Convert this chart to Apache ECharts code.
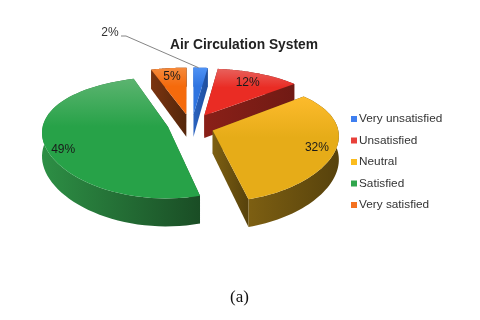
<!DOCTYPE html>
<html>
<head>
<meta charset="utf-8">
<script src="https://cdn.jsdelivr.net/npm/echarts@6/dist/echarts.min.js"></script>
<style>
  html, body { margin: 0; padding: 0; background: #fff; }
  #chart { width: 480px; height: 320px; filter: blur(0.35px); }
</style>
</head>
<body>
<div id="chart"></div>
<script>
const categories = ['Very unsatisfied', 'Unsatisfied', 'Neutral', 'Satisfied', 'Very satisfied']
const percents = [2, 12, 32, 49, 5]

// slice look, same order as categories
const legendColors = ['#3f7ff0', '#e8403a', '#fbbc1e', '#2fa64c', '#f4711f']
const topColors = [['#4f92f5', '#2f74e0'], ['#e8615c', '#ea2c24'], ['#fdbb2c', '#e6ac18'], ['#5cb470', '#27a248'], ['#f58a3c', '#f56a0c']]
const wallColors = [['#2a62c0', '#1f4f9e'], ['#8a2018', '#701a14'], ['#7d5f12', '#57420c'], ['#2d8f45', '#1a4d25'], ['#7a3410', '#54260a']]
const labelRadius = [0, 0.78, 0.85, 0.85, 0.8]
// small nudges in px so each slice sits where it does in the picture
const nudgeX = [2, 3, 0, 1, 0]
const nudgeY = [0, 0, 2, -1, 0]
const labelNudgeY = [0, 1, 1, 8, 0]

// fake 3D projection
const centerX = 190
const centerY = 125
const radiusX = 125
const radiusY = 58
const depth = 23
const explode = 0.19

function project(u, v) {
  return [
    centerX + radiusX * u / (1 - 0.08 * v),
    centerY + radiusY * v / (1 - 0.17 * v)
  ]
}
function dropped(u, v) {
  const p = project(u, v)
  return [p[0], p[1] + depth / (1 - 0.17 * v)]
}

const total = percents.reduce((a, b) => a + b, 0)
const startAngles = []
percents.reduce((acc, v, i) => {
  startAngles[i] = acc
  return acc + v / total * Math.PI * 2
}, 0)

function gradient(stops, vertical) {
  return {
    type: 'linear', x: 0, y: 0, x2: vertical ? 0 : 1, y2: vertical ? 1 : 0,
    colorStops: vertical
      ? [{ offset: 0, color: stops[0] }, { offset: 0.4, color: stops[1] }, { offset: 1, color: stops[1] }]
      : [{ offset: 0, color: stops[0] }, { offset: 1, color: stops[1] }]
  }
}

function sliceShapes(i) {
  const from = startAngles[i]
  const to = from + percents[i] / total * Math.PI * 2
  const mid = (from + to) / 2
  const ax = Math.sin(mid) * explode
  const ay = -Math.cos(mid) * explode
  const rim = []
  const steps = 60
  for (let k = 0; k <= steps; k++) {
    const t = from + (to - from) * k / steps
    rim.push([ax + Math.sin(t), ay - Math.cos(t)])
  }
  const children = []
  const wallStyle = { fill: gradient(wallColors[i], false) }
  // radial walls
  ;[rim[0], rim[steps]].forEach(e => {
    children.push({
      type: 'polygon', silent: true,
      shape: { points: [project(ax, ay), project(e[0], e[1]), dropped(e[0], e[1]), dropped(ax, ay)] },
      style: wallStyle
    })
  })
  // outer wall
  const outer = rim.map(p => project(p[0], p[1])).concat(rim.slice().reverse().map(p => dropped(p[0], p[1])))
  children.push({ type: 'polygon', silent: true, shape: { points: outer }, style: wallStyle })
  // top face
  const top = [project(ax, ay)].concat(rim.map(p => project(p[0], p[1])))
  children.push({ type: 'polygon', silent: true, shape: { points: top }, style: { fill: gradient(topColors[i], true) } })
  // label
  const text = percents[i] + '%'
  const font = '12px "Liberation Sans", Arial, sans-serif'
  if (labelRadius[i] > 0) {
    const lp = project(ax + Math.sin(mid) * labelRadius[i], ay - Math.cos(mid) * labelRadius[i])
    children.push({
      type: 'text', silent: true, z2: 10,
      style: { x: lp[0], y: lp[1] + labelNudgeY[i], text: text, font: font, fill: '#1a1a1a', align: 'center', verticalAlign: 'middle' }
    })
  } else {
    const end = project(rim[steps / 2][0], rim[steps / 2][1])
    children.push({
      type: 'polyline', silent: true, x: -nudgeX[i], y: -nudgeY[i],
      shape: { points: [[121, 36], [126, 36], end] },
      style: { stroke: '#666', lineWidth: 0.8, fill: null }
    })
    children.push({
      type: 'text', silent: true, z2: 10, x: -nudgeX[i], y: -nudgeY[i],
      style: { x: 110, y: 33, text: text, font: font, fill: '#333', align: 'center', verticalAlign: 'middle' }
    })
  }
  return { type: 'group', x: nudgeX[i], y: nudgeY[i], children: children }
}

// painted back to front
const drawOrder = [0, 4, 1, 3, 2]

const chart = echarts.init(document.getElementById('chart'), null, { renderer: 'canvas' })
chart.setOption({
  animation: false,
  backgroundColor: '#fff',
  title: [
    {
      text: 'Air Circulation System',
      left: 165, top: 33,
      textStyle: { fontFamily: '"Liberation Sans", Arial, sans-serif', fontSize: 13.8, fontWeight: 'bold', color: '#222' }
    },
    {
      text: '(a)',
      left: 225, top: 284,
      textStyle: { fontFamily: '"Liberation Serif", "Times New Roman", serif', fontSize: 17, fontWeight: 'normal', color: '#111' }
    }
  ],
  legend: {
    orient: 'vertical',
    left: 346, top: 108,
    itemWidth: 6, itemHeight: 6,
    itemGap: 9.5,
    icon: 'rect',
    data: categories,
    textStyle: { fontFamily: '"Liberation Sans", Arial, sans-serif', fontSize: 11.8, color: '#333', padding: [0, 0, 0, -3], lineHeight: 12 }
  },
  series: drawOrder.map(i => ({
    type: 'custom',
    name: categories[i],
    coordinateSystem: 'none',
    itemStyle: { color: legendColors[i] },
    data: [percents[i]],
    renderItem: () => sliceShapes(i)
  }))
})
</script>
</body>
</html>
